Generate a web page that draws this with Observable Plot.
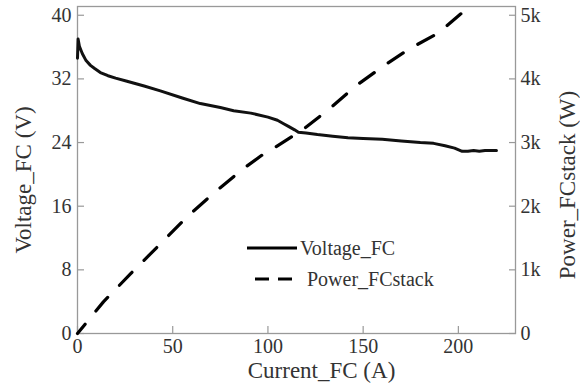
<!DOCTYPE html>
<html><head><meta charset="utf-8">
<script src="https://cdn.jsdelivr.net/npm/d3@7"></script>
<script src="https://cdn.jsdelivr.net/npm/@observablehq/plot@0.6"></script>
<style>
body{margin:0;background:#fff;font-family:'Liberation Serif','DejaVu Serif',serif;}
#chart{position:relative;width:580px;height:391px;}
#legend{position:absolute;left:0;top:0;}
</style></head><body><div id="chart"></div>
<script>
// Voltage_FC (V) vs Current_FC (A)
const currentV = [0, 0.3, 1, 2.5, 4.5, 6.8, 9, 12, 16, 20, 26, 35, 43.5, 55, 64.5, 75, 82, 91, 100, 105, 108, 111, 114, 116, 120, 126, 134, 142, 150, 160, 170, 180, 187, 193, 198, 202, 205, 208, 211, 214, 217, 220];
const voltage  = [34.6, 37.0, 36.1, 35.2, 34.3, 33.7, 33.3, 32.8, 32.4, 32.1, 31.7, 31.1, 30.5, 29.6, 28.9, 28.4, 28.0, 27.7, 27.2, 26.8, 26.4, 26.0, 25.6, 25.3, 25.2, 25.0, 24.8, 24.6, 24.5, 24.4, 24.2, 24.0, 23.9, 23.6, 23.3, 22.9, 22.9, 23.0, 22.9, 23.0, 23.0, 23.0];
// Power_FCstack (W) vs Current_FC (A)
const currentP = [0, 13.6, 27.8, 43.5, 58, 73.5, 87.6, 100, 103, 118, 132.7, 146, 160.5, 174.7, 189.4, 201, 203];
const power    = [0, 497, 937, 1407, 1847, 2255, 2600, 2870, 2910, 3195, 3540, 3886, 4200, 4480, 4718, 5016, 5060];

const xTicks = [0, 50, 100, 150, 200];
const leftTicks = [0, 8, 16, 24, 32, 40];
const rightTicks = [0, 1000, 2000, 3000, 4000, 5000];
const rightTickLabels = ["0", "1k", "2k", "3k", "4k", "5k"];
const seriesNames = ["Voltage_FC", "Power_FCstack"];
const xTitle = "Current_FC (A)";
const yLeftTitle = "Voltage_FC (V)";
const yRightTitle = "Power_FCstack (W)";
const wattsPerVolt = 125; // right axis 5k aligns with left axis 40

const vData = currentV.map((c, i) => ({c, v: voltage[i]}));
const pData = currentP.map((c, i) => ({c, v: power[i] / wattsPerVolt}));

const font = "'Liberation Serif','DejaVu Serif',serif";
const textColor = "#333";
const axisColor = "#999";

const chart = Plot.plot({
  width: 580, height: 391,
  marginLeft: 77, marginRight: 65, marginTop: 6, marginBottom: 58,
  style: {fontFamily: font, background: "#fff", color: textColor},
  x: {domain: [0, 230]},
  y: {domain: [0, 41.1]},
  marks: [
    Plot.frame({stroke: axisColor, strokeWidth: 1.3}),
    Plot.axisX({ticks: xTicks, tickSize: -7, tickPadding: 12, stroke: axisColor, fill: textColor, fontSize: 20, label: null, strokeWidth: 1.2}),
    Plot.axisY({ticks: leftTicks, tickSize: -7, tickPadding: 13, stroke: axisColor, fill: textColor, fontSize: 20, label: null, strokeWidth: 1.2}),
    Plot.axisY({anchor: "right", ticks: rightTicks.map(p => p / wattsPerVolt), tickFormat: (d) => rightTickLabels[rightTicks.indexOf(Math.round(d * wattsPerVolt))], tickSize: -7, tickPadding: 12, stroke: axisColor, fill: textColor, fontSize: 20, label: null, strokeWidth: 1.2}),
    Plot.line(pData, {x: "c", y: "v", stroke: "#000", strokeWidth: 3.2, strokeDasharray: "18,17", strokeDashoffset: 6}),
    Plot.line(vData, {x: "c", y: "v", stroke: "#111", strokeWidth: 3}),
    Plot.text([xTitle], {frameAnchor: "bottom", textAnchor: "middle", dy: 44, dx: 25, fontSize: 23, fill: textColor}),
    Plot.text([yLeftTitle], {frameAnchor: "left", textAnchor: "middle", dx: -54, dy: 10, rotate: -90, fontSize: 23, fill: textColor}),
    Plot.text([yRightTitle], {frameAnchor: "right", textAnchor: "middle", dx: 52, dy: 15, rotate: -90, fontSize: 23, fill: textColor})
  ]
});
const host = document.getElementById("chart");
host.appendChild(chart);

// legend
const ns = "http://www.w3.org/2000/svg";
const lg = document.createElementNS(ns, "svg");
lg.setAttribute("id", "legend");
lg.setAttribute("width", 580);
lg.setAttribute("height", 391);
const items = [
  {name: seriesNames[0], x1: 247, x2: 297, y: 248, tx: 300, dash: null},
  {name: seriesNames[1], x1: 255, x2: 292, y: 279, tx: 307, dash: "14,9"}
];
for (const it of items) {
  const l = document.createElementNS(ns, "line");
  l.setAttribute("x1", it.x1); l.setAttribute("x2", it.x2);
  l.setAttribute("y1", it.y); l.setAttribute("y2", it.y);
  l.setAttribute("stroke", "#000"); l.setAttribute("stroke-width", 3);
  if (it.dash) l.setAttribute("stroke-dasharray", it.dash);
  lg.appendChild(l);
  const t = document.createElementNS(ns, "text");
  t.setAttribute("x", it.tx); t.setAttribute("y", it.y);
  t.setAttribute("dy", "0.35em");
  t.setAttribute("font-family", font);
  t.setAttribute("font-size", 20);
  t.setAttribute("fill", textColor);
  t.textContent = it.name;
  lg.appendChild(t);
}
host.appendChild(lg);
</script></body></html>
